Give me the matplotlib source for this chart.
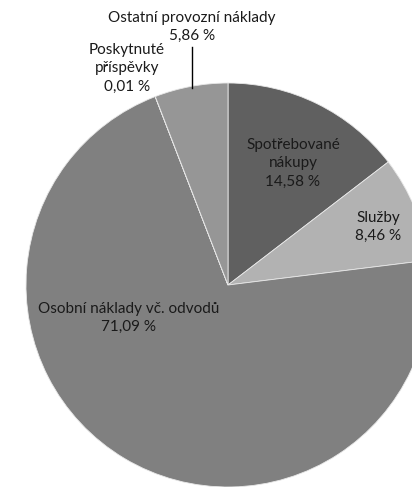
import matplotlib
matplotlib.use("Agg")
import matplotlib.pyplot as plt

# data
nazvy = ["Spotřebované\nnákupy", "Služby", "Osobní náklady vč. odvodů",
         "Poskytnuté\npříspěvky", "Ostatní provozní náklady"]
podily = [14.58, 8.46, 71.09, 0.01, 5.86]
barvy = ["#606060", "#b2b2b2", "#808080", "#a0a0a0", "#969696"]

plt.rcParams['font.family'] = ['Lato', 'DejaVu Sans']

W, H = 412, 487
fig = plt.figure(figsize=(W / 100, H / 100), dpi=100)
ax = fig.add_axes([0, 0, 1, 1])

# pie in pixel coordinates (y up)
stred = (228, H - 285)
r = 202
ax.pie(podily, colors=barvy, startangle=90, counterclock=False,
       center=stred, radius=r,
       wedgeprops=dict(edgecolor="#e8e8e8", linewidth=0.6))
ax.set_xlim(0, W)
ax.set_ylim(0, H)
ax.set_aspect("equal")
ax.axis("off")

def popisek(i):
    return nazvy[i] + "\n" + f"{podily[i]:.2f}".replace(".", ",") + " %"

# label positions (pixels from top-left)
pozice = [(293, 163), (378, 227), (129, 318), (127, 68), (192, 27)]
for i, (x, y) in enumerate(pozice):
    ax.text(x, H - y, popisek(i), ha="center", va="center",
            fontsize=11, color="#1a1a1a", linespacing=1.4)

# leader line for Ostatní provozní náklady
ax.plot([192, 192], [H - 47, H - 88], color="black", lw=1)

fig.savefig("out.png", dpi=100)
